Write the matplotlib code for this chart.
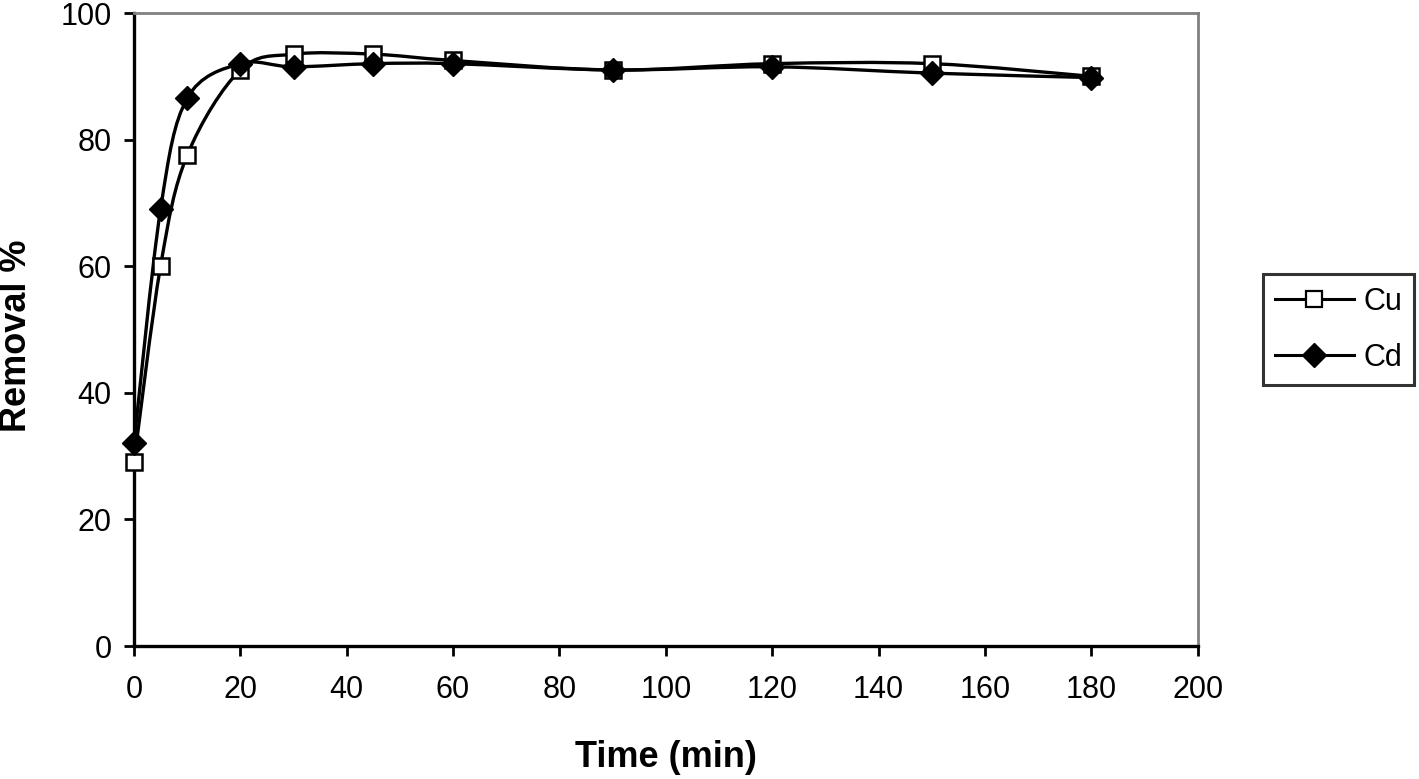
import matplotlib
matplotlib.use('Agg')
import matplotlib.pyplot as plt
import numpy as np
from matplotlib.path import Path
from matplotlib.patches import PathPatch
from matplotlib.lines import Line2D

plt.rcParams['font.family'] = ['Liberation Sans', 'DejaVu Sans']

time = [0, 5, 10, 20, 30, 45, 60, 90, 120, 150, 180]
cu = [29, 60, 77.5, 91, 93.5, 93.5, 92.5, 91, 92, 92, 90]
cd = [32, 69, 86.5, 92, 91.5, 92, 92, 91, 91.5, 90.5, 89.8]


def smooth_path(x, y):
    # Excel-like smoothed line: cubic bezier segments, catmull-rom controls
    x = np.asarray(x, float); y = np.asarray(y, float)
    verts = [(x[0], y[0])]
    codes = [Path.MOVETO]
    n = len(x)
    for i in range(n - 1):
        i0 = max(i - 1, 0); i3 = min(i + 2, n - 1)
        c1 = (x[i] + (x[i+1] - x[i0]) / 6., y[i] + (y[i+1] - y[i0]) / 6.)
        c2 = (x[i+1] - (x[i3] - x[i]) / 6., y[i+1] - (y[i3] - y[i]) / 6.)
        verts += [c1, c2, (x[i+1], y[i+1])]
        codes += [Path.CURVE4] * 3
    return Path(verts, codes)


f = plt.figure(figsize=(14.19, 7.79), dpi=100)
ax = f.add_axes([0.0944, 0.1707, 0.7496, 0.8126])

for yy in (cu, cd):
    ax.add_patch(PathPatch(smooth_path(time, yy), fill=False, lw=2.4, color='k', zorder=2))
ax.plot(time, cu, ls='none', marker='s', ms=12, mfc='white', mec='k', mew=1.8, zorder=3, clip_on=False)
ax.plot(time, cd, ls='none', marker='D', ms=12.5, mfc='k', mec='k', zorder=3, clip_on=False)

ax.set_xlim(0, 200)
ax.set_ylim(0, 100)
ax.set_xticks(np.arange(0, 201, 20))
ax.set_yticks(np.arange(0, 101, 20))
ax.tick_params(direction='out', length=7, width=2, labelsize=22)
ax.tick_params(axis='x', pad=14)
ax.tick_params(axis='y', pad=9)
for s in ('left', 'bottom'):
    ax.spines[s].set_linewidth(2.4)
for s in ('top', 'right'):
    ax.spines[s].set_color('#808080')
    ax.spines[s].set_linewidth(2)
ax.set_xlabel('Time (min)', fontsize=26, fontweight='bold')
ax.set_ylabel('Removal %', fontsize=26, fontweight='bold')
ax.xaxis.set_label_coords(0.5, -0.148)
ax.yaxis.set_label_coords(-0.094, 0.49)

handles = [Line2D([], [], color='k', lw=2.2, marker='s', ms=11, mfc='white', mec='k', mew=1.6),
           Line2D([], [], color='k', lw=2.2, marker='D', ms=12, mfc='k')]
leg = ax.legend(handles, ['Cu', 'Cd'], loc='center left', bbox_to_anchor=(1.061, 0.5),
                fontsize=22, frameon=True, fancybox=False, edgecolor='k', borderaxespad=0,
                handlelength=2.6, handletextpad=0.3, borderpad=0.4, labelspacing=0.85)
leg.get_frame().set_linewidth(2.2)

f.savefig('out.png', dpi=100)
